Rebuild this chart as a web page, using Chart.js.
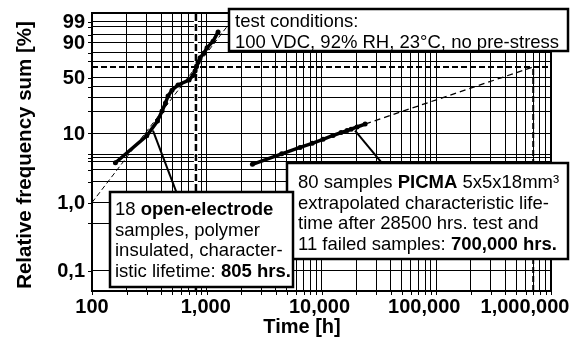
<!DOCTYPE html>
<html>
<head>
<meta charset="utf-8">
<script src="https://cdn.jsdelivr.net/npm/chart.js@4.4.1/dist/chart.umd.min.js"></script>
<style>
    html, body { margin: 0; padding: 0; background: #fff; }
    #wrap { width: 579px; height: 339px; }
</style>
</head>
<body>
<div id="wrap"><canvas id="chart" width="579" height="339"></canvas></div>
<script>
// Weibull plot: failure time [h] vs. relative frequency sum [%]

// 18 open-electrode samples
const openHours = [160, 300, 372, 408, 437, 460, 498, 562, 701, 760, 791, 815, 840, 875, 948, 1006, 1135, 1255];
const openFreq = [3.8, 9.2, 14.7, 20.1, 25.5, 31.0, 36.4, 41.8, 47.3, 52.7, 58.2, 63.6, 69.0, 74.5, 79.9, 85.3, 90.8, 96.2];

// PICMA, 11 failed of 80
const picmaHours = [2500, 4500, 6500, 8300, 10300, 12600, 14800, 16700, 18100, 20400, 24000];
const picmaFreq = [3.6, 5.1, 6.3, 7.2, 8.2, 9.3, 10.2, 10.9, 11.4, 12.2, 13.4];

// fitted / extrapolated lines (end points)
const openFitHours = [100, 1500];
const openFitFreq = [1.0, 98];
const picmaFitHours = [24000, 700000];
const picmaFitFreq = [13.4, 63.2];

// characteristic lifetime markers
const charFreq = 63.2;
const openLifetime = 805;
const picmaLifetime = 700000;

// leader lines from curves to the text boxes
const openLeaderHours = [340, 551];
const openLeaderFreq = [10.9, 1.34];
const picmaLeaderHours = [19600, 34400];
const picmaLeaderFreq = [10.9, 3.6];

// axes
const xMin = 100, xMax = 1000000;
const yMinPct = 0.05, yMaxPct = 99.8;
const xMajorTicks = [100, 1000, 10000, 100000, 1000000];
const xTickLabels = ['100', '1,000', '10,000', '100,000', '1,000,000'];
const yGridPercent = [0.1, 0.5, 1, 2, 3, 4, 4.5, 5, 10, 20, 30, 40, 50, 70, 80, 90, 95, 98, 99];
const yLabelPercent = [99, 90, 50, 10, 1, 0.1];
const yTickLabels = ['99', '90', '50', '10', '1,0', '0,1'];

// Weibull probability transform
function weib(p) {
    return Math.log(-Math.log(1 - p / 100));
}

function pts(hours, freq) {
    return hours.map((h, i) => ({ x: h, y: weib(freq[i]) }));
}

// minor log grid 1..9 per decade
const xGrid = [];
for (let i = 0; i < xMajorTicks.length - 1; i++) {
    for (let k = 1; k <= 9; k++) xGrid.push(xMajorTicks[i] * k);
}
xGrid.push(xMajorTicks[xMajorTicks.length - 1]);

const FONT = '"Liberation Sans", Arial, sans-serif';

const boxes = [
    { x: 229, y: 9, w: 339, h: 42, tx: 235, ty: 27, lines: [
        [['test conditions:']],
        [['100 VDC, 92% RH, 23°C, no pre-stress']]
    ] },
    { x: 287, y: 163, w: 281, h: 96, tx: 298, ty: 188, lines: [
        [['80 samples '], ['PICMA', true], [' 5x5x18mm³']],
        [['extrapolated characteristic life-']],
        [['time after 28500 hrs. test and']],
        [['11 failed samples: '], ['700,000 hrs.', true]]
    ] },
    { x: 110, y: 192, w: 183, h: 95, tx: 115, ty: 215, lines: [
        [['18 '], ['open-electrode', true]],
        [['samples, polymer']],
        [['insulated, character-']],
        [['istic lifetime: '], ['805 hrs.', true]]
    ] }
];

function drawRich(ctx, segs, x, y) {
    segs.forEach(([txt, bold]) => {
        ctx.font = (bold ? 'bold ' : '') + '18.5px ' + FONT;
        ctx.fillText(txt, x, y);
        x += ctx.measureText(txt).width;
    });
}

const paperPlugin = {
    id: 'paper',
    afterDraw(chart) {
        const { ctx, chartArea: a, scales: { x, y } } = chart;
        ctx.save();

        // frame
        ctx.strokeStyle = '#000';
        ctx.lineWidth = 2;
        ctx.strokeRect(a.left, a.top, a.right - a.left, a.bottom - a.top);

        // tick marks outside the frame
        ctx.lineWidth = 1;
        ctx.beginPath();
        yGridPercent.forEach(p => {
            const py = Math.round(y.getPixelForValue(weib(p))) + 0.5;
            ctx.moveTo(a.left - 4, py);
            ctx.lineTo(a.left, py);
        });
        xGrid.forEach(v => {
            const px = Math.round(x.getPixelForValue(v)) + 0.5;
            ctx.moveTo(px, a.bottom);
            ctx.lineTo(px, a.bottom + 4);
        });
        ctx.stroke();

        // tick labels
        ctx.fillStyle = '#000';
        ctx.font = 'bold 20px ' + FONT;
        ctx.textAlign = 'right';
        ctx.textBaseline = 'middle';
        yLabelPercent.forEach((p, i) => {
            ctx.fillText(yTickLabels[i], 85, y.getPixelForValue(weib(p)) + 1);
        });
        const xShift = [0, -1, -2, -12, -26];
        ctx.textAlign = 'center';
        ctx.textBaseline = 'alphabetic';
        xMajorTicks.forEach((v, i) => {
            ctx.fillText(xTickLabels[i], x.getPixelForValue(v) + xShift[i], 313);
        });

        // axis titles
        ctx.fillText('Time [h]', 302, 333);
        ctx.save();
        ctx.translate(31, 155);
        ctx.rotate(-Math.PI / 2);
        ctx.font = 'bold 20.5px ' + FONT;
        ctx.fillText('Relative frequency sum [%]', 0, 0);
        ctx.restore();

        // text boxes
        boxes.forEach(b => {
            ctx.fillStyle = '#fff';
            ctx.fillRect(b.x, b.y, b.w, b.h);
            ctx.lineWidth = 2.5;
            ctx.strokeStyle = '#000';
            ctx.strokeRect(b.x, b.y, b.w, b.h);
            ctx.fillStyle = '#000';
            ctx.textAlign = 'left';
            b.lines.forEach((segs, i) => drawRich(ctx, segs, b.tx, b.ty + i * 20.5));
        });

        ctx.restore();
    }
};

const lineStyle = (data, width, dash, color) => ({
    data: data,
    showLine: true,
    borderColor: color || '#000',
    borderWidth: width,
    borderDash: dash || [],
    pointRadius: 0,
    fill: false
});

const datasets = [
    lineStyle(pts(openLeaderHours, openLeaderFreq), 2),
    lineStyle(pts(picmaLeaderHours, picmaLeaderFreq), 2),
    Object.assign(lineStyle(pts(openHours, openFreq), 3.5), { pointRadius: 2.5, pointBackgroundColor: '#000', pointBorderWidth: 0 }),
    Object.assign(lineStyle(pts(picmaHours, picmaFreq), 3.5), { pointRadius: 2.5, pointBackgroundColor: '#000', pointBorderWidth: 0 }),
    lineStyle(pts(openFitHours, openFitFreq), 1, [5, 3]),
    lineStyle(pts(picmaFitHours, picmaFitFreq), 1.3, [6, 4]),
    lineStyle(pts([xMin, xMax], [charFreq, charFreq]), 2, [6, 3]),
    lineStyle(pts([openLifetime, openLifetime], [yMinPct, yMaxPct]), 2.5, [7, 3]),
    lineStyle(pts([picmaLifetime, picmaLifetime], [yMinPct, charFreq]), 2, [6, 3]),
    lineStyle(pts([openLifetime, openLifetime], [yMinPct, yMaxPct]), 4, [], '#fff')
];

new Chart(document.getElementById('chart'), {
    type: 'scatter',
    data: { datasets: datasets },
    options: {
        responsive: false,
        animation: false,
        devicePixelRatio: 1,
        layout: { padding: { left: 92, top: 13, right: 28, bottom: 48 } },
        plugins: { legend: { display: false }, tooltip: { enabled: false } },
        scales: {
            x: {
                type: 'logarithmic',
                min: xMin,
                max: xMax,
                afterBuildTicks: s => { s.ticks = xGrid.map(v => ({ value: v })); },
                ticks: { display: false },
                grid: { color: '#000', lineWidth: 1, drawTicks: false },
                border: { display: true, color: '#000', width: 2 }
            },
            y: {
                type: 'linear',
                min: weib(yMinPct),
                max: weib(yMaxPct),
                afterBuildTicks: s => { s.ticks = yGridPercent.map(p => ({ value: weib(p) })); },
                ticks: { display: false },
                grid: { color: '#000', lineWidth: 1, drawTicks: false },
                border: { display: true, color: '#000', width: 2 }
            }
        }
    },
    plugins: [paperPlugin]
});
</script>
</body>
</html>
